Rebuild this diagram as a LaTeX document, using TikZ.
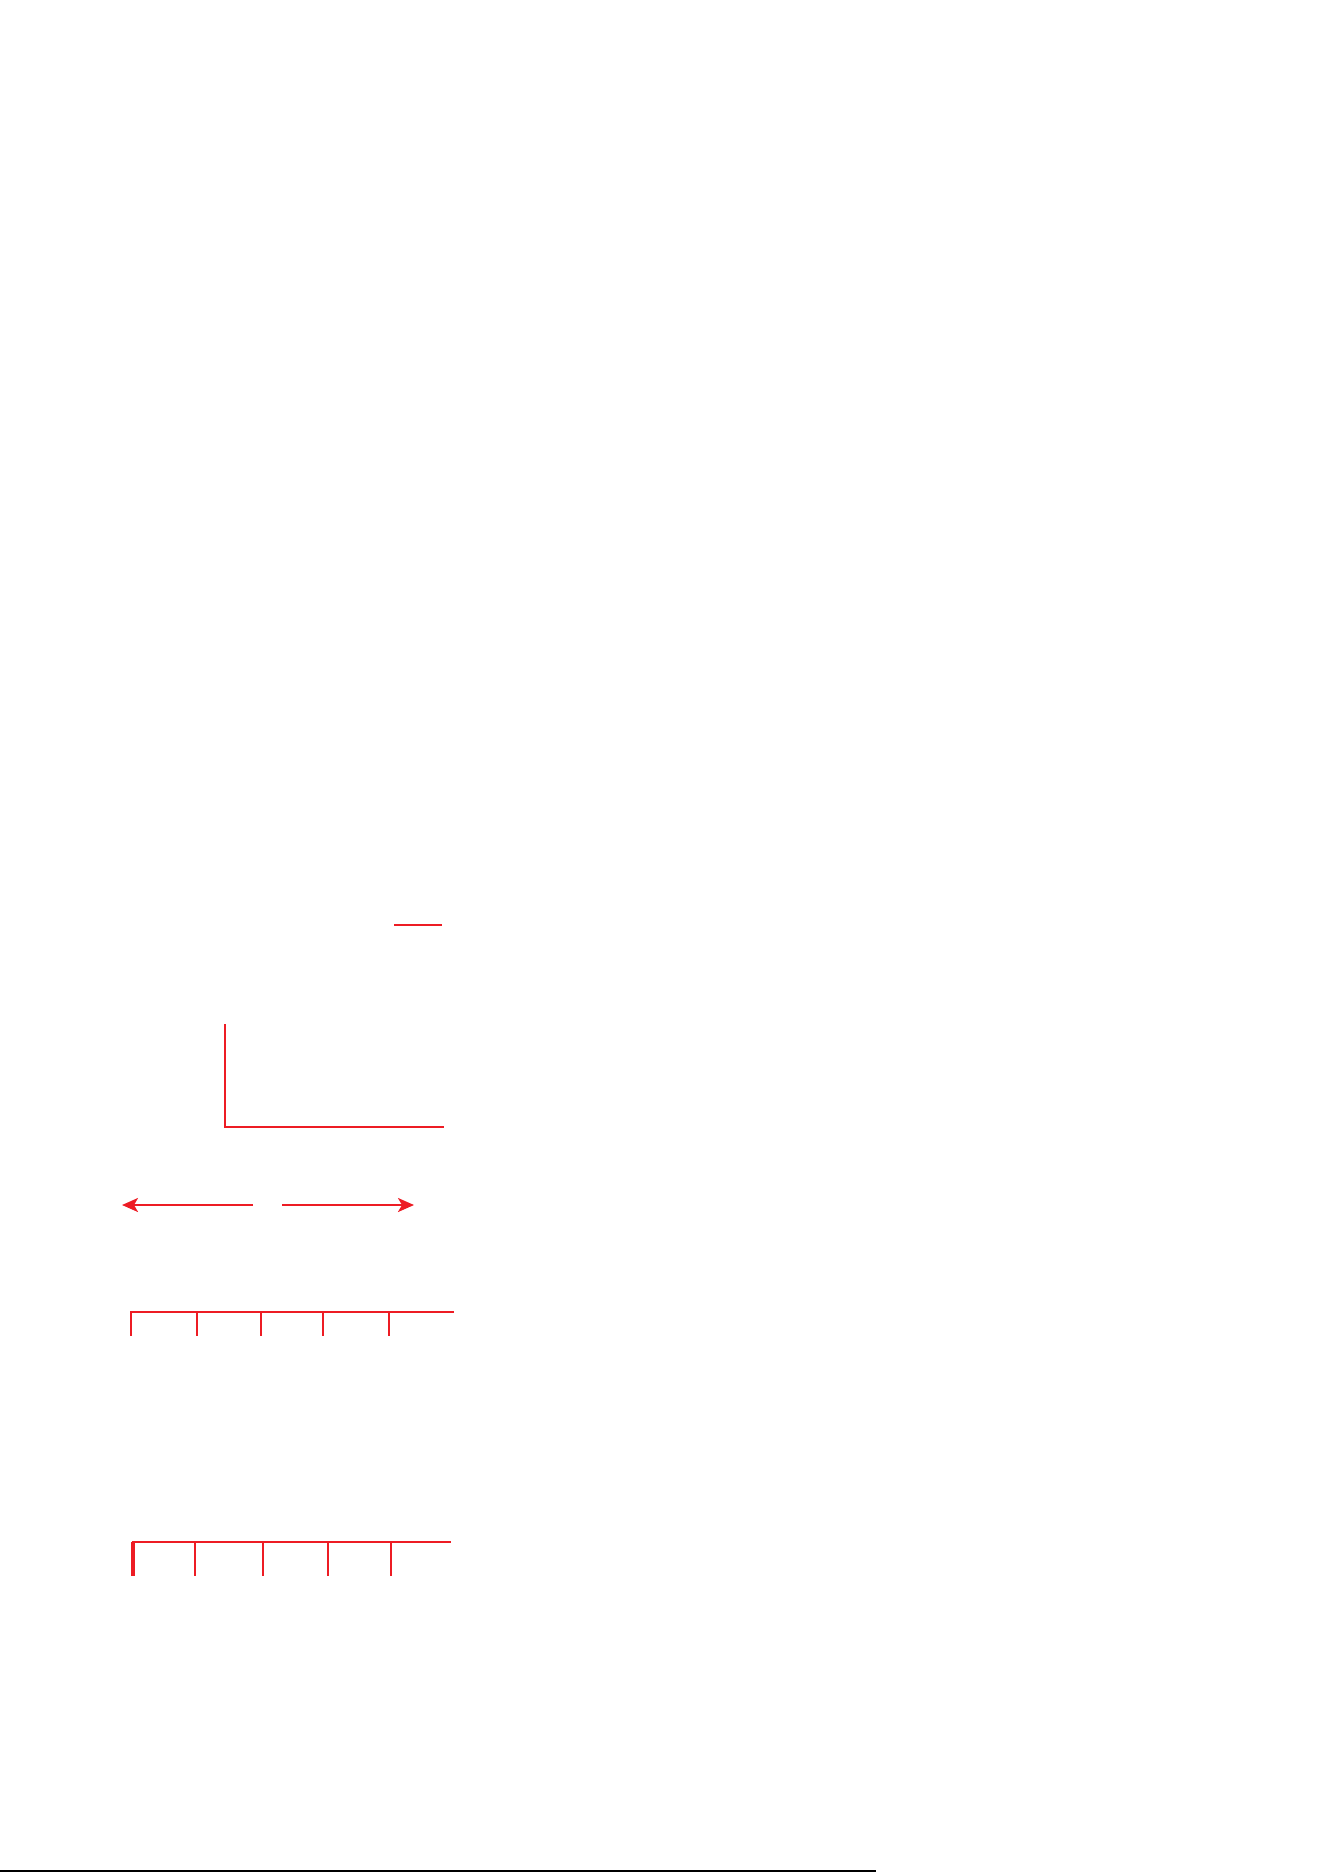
\documentclass[tikz,border=0pt]{standalone}
\usepackage{xcolor}
\usepackage{tikz}
\usetikzlibrary{arrows.meta}
\definecolor{trazo}{RGB}{237,28,36}

\begin{document}
\begin{tikzpicture}[x=0.02cm, y=-0.02cm, >={Stealth[length=0.32cm, width=0.28cm, inset=0.08cm]},
  rojo/.style={draw=trazo, line width=1.2pt}]
\useasboundingbox (0,0) rectangle (1324,1872);

% Puntos
\coordinate (s0) at (394,925);
\coordinate (s1) at (442,925);
\coordinate (l0) at (225,1024);
\coordinate (l1) at (225,1127);
\coordinate (l2) at (444,1127);
\coordinate (fi0) at (253,1205);
\coordinate (fi1) at (122,1205);
\coordinate (fd0) at (282,1205);
\coordinate (fd1) at (414,1205);
\coordinate (ra0) at (130,1312);
\coordinate (ra1) at (454,1312);
\coordinate (rb0) at (132,1542);
\coordinate (rb1) at (451,1542);
\coordinate (p0) at (0,1871);
\coordinate (p1) at (876,1871);

% Trazos
\draw[rojo] (s0) -- (s1);
\draw[rojo] (l0) -- (l1) -- (l2);
\draw[rojo, ->] (fi0) -- (fi1);
\draw[rojo, ->] (fd0) -- (fd1);

% Reglas
\draw[rojo] (ra0) -- (ra1);
\foreach \x/\w [count=\i] in {131/1.2, 197/1.2, 261/1.2, 323/1.7, 389/1.7} {
  \coordinate (ta\i) at (\x,1312);
  \draw[rojo, line width=\w pt] (ta\i) -- ++(0,24);
}
\draw[rojo] (rb0) -- (rb1);
\foreach \x/\w [count=\i] in {133/1.8, 195/1.2, 263/1.7, 328/1.2, 391/1.2} {
  \coordinate (tb\i) at (\x,1542);
  \draw[rojo, line width=\w pt] (tb\i) -- ++(0,34);
}

% Pie
\draw[black, line width=0.6pt] (p0) -- (p1);
\end{tikzpicture}
\end{document}
